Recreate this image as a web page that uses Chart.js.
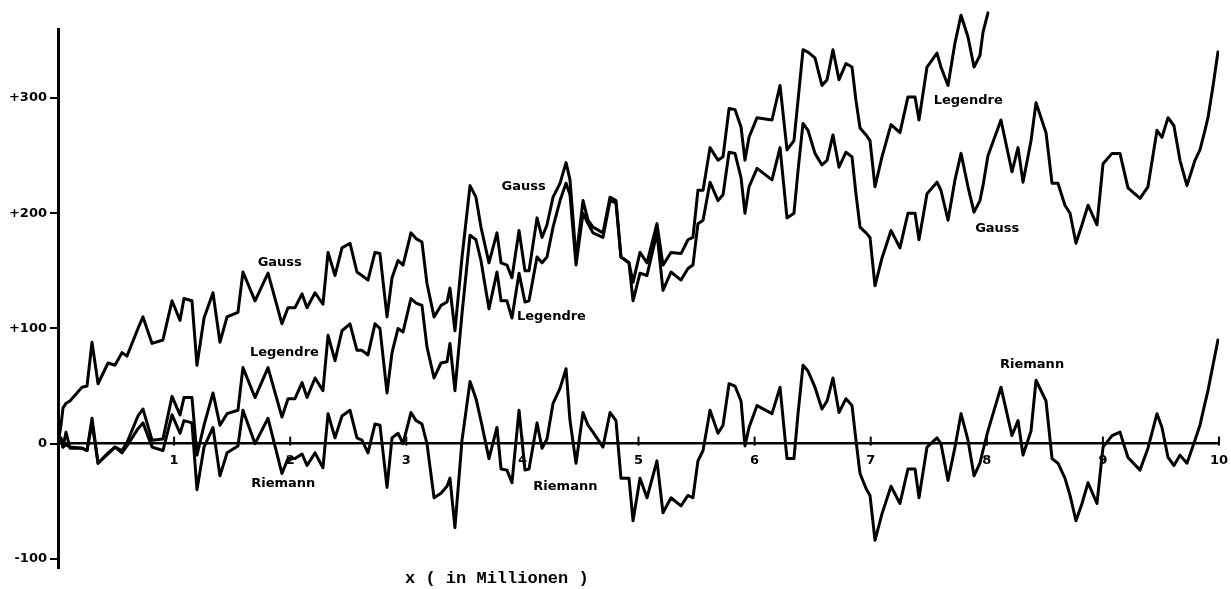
<!DOCTYPE html>
<html>
<head>
<meta charset="utf-8">
<script src="https://cdn.jsdelivr.net/npm/chart.js@4.4.1/dist/chart.umd.min.js"></script>
<style>
  body { margin: 0; background: #fff; }
</style>
</head>
<body>
<canvas id="myChart" width="1231" height="589"></canvas>
<script>
// x in millions at the corners of the curves
const xValues = [
  0, 0.026, 0.043, 0.069, 0.103, 0.207, 0.250, 0.293, 0.345, 0.431,
  0.491, 0.551, 0.594, 0.689, 0.732, 0.810, 0.904, 0.982, 1.051, 1.085,
  1.154, 1.197, 1.258, 1.335, 1.395, 1.456, 1.550, 1.593, 1.697, 1.809,
  1.929, 1.981, 2.041, 2.102, 2.145, 2.214, 2.282, 2.326, 2.386, 2.446,
  2.515, 2.575, 2.618, 2.670, 2.730, 2.773, 2.834, 2.877, 2.929, 2.972,
  3.040, 3.084, 3.135, 3.178, 3.239, 3.299, 3.351, 3.376, 3.419, 3.480,
  3.549, 3.600, 3.643, 3.712, 3.781, 3.816, 3.867, 3.910, 3.971, 4.022,
  4.057, 4.126, 4.169, 4.212, 4.264, 4.324, 4.376, 4.410, 4.462, 4.522,
  4.565, 4.608, 4.694, 4.755, 4.806, 4.849, 4.918, 4.953, 5.013, 5.073,
  5.159, 5.211, 5.280, 5.366, 5.426, 5.469, 5.512, 5.556, 5.616, 5.685,
  5.728, 5.780, 5.831, 5.883, 5.917, 5.952, 6.021, 6.150, 6.219, 6.279,
  6.339, 6.374, 6.417, 6.460, 6.520, 6.580, 6.624, 6.675, 6.727, 6.787,
  6.839, 6.873, 6.908, 6.960, 6.994, 7.037, 7.097, 7.175, 7.252, 7.321,
  7.382, 7.416, 7.485, 7.571, 7.605, 7.666, 7.726, 7.778, 7.838, 7.890,
  7.941, 7.967, 8.010, 8.122, 8.217, 8.269, 8.312, 8.381, 8.424, 8.510,
  8.562, 8.613, 8.673, 8.717, 8.768, 8.820, 8.872, 8.949, 9.001, 9.079,
  9.147, 9.216, 9.320, 9.388, 9.466, 9.509, 9.561, 9.612, 9.664, 9.724,
  9.793, 9.836, 9.879, 9.905, 9.948, 9.991
];

const gaussValues = [
  0, 16, 31, 35, 37, 49, 50, 88, 52, 70,
  68, 79, 76, 100, 110, 87, 90, 124, 107, 126,
  124, 68, 109, 131, 88, 110, 114, 149, 124, 148,
  104, 118, 118, 130, 118, 131, 121, 166, 146, 170,
  174, 149, 146, 142, 166, 165, 110, 144, 159, 155,
  183, 178, 175, 139, 110, 120, 123, 135, 98, 162,
  224, 214, 188, 157, 183, 157, 155, 144, 185, 150,
  150, 196, 179, 190, 214, 226, 244, 229, 161, 211,
  194, 188, 183, 214, 211, 162, 157, 124, 148, 146,
  183, 133, 149, 142, 152, 155, 191, 194, 227, 211,
  216, 253, 252, 231, 200, 223, 239, 229, 257, 196,
  200, 237, 278, 272, 252, 242, 246, 268, 240, 253,
  249, 217, 188, 183, 179, 137, 161, 185, 170, 200,
  200, 177, 217, 227, 220, 194, 229, 252, 223, 201,
  211, 224, 250, 281, 236, 257, 227, 263, 296, 270,
  226, 226, 207, 200, 174, 190, 207, 190, 243, 252,
  252, 222, 213, 223, 272, 266, 283, 276, 246, 224,
  246, 255, 272, 283, 310, 340
];

// Legendre leaves the top of the picture a little after x = 8
const legendreValues = [
  0, 3, -3, -1, -3, -4, -6, 18, -17, -8,
  -3, -6, 1, 24, 30, 3, 4, 41, 25, 40,
  40, -10, 16, 44, 16, 26, 29, 66, 40, 66,
  23, 39, 39, 53, 40, 57, 46, 94, 72, 98,
  104, 81, 81, 77, 104, 100, 44, 79, 100, 97,
  126, 122, 120, 84, 57, 70, 71, 87, 46, 113,
  181, 177, 159, 117, 149, 124, 124, 109, 148, 123,
  124, 162, 157, 162, 188, 211, 226, 216, 155, 200,
  191, 183, 179, 211, 209, 162, 157, 140, 166, 157,
  191, 155, 166, 165, 177, 179, 220, 220, 257, 246,
  249, 291, 290, 275, 246, 266, 283, 281, 311, 255,
  263, 298, 342, 340, 335, 311, 316, 342, 316, 330,
  327, 298, 274, 268, 263, 223, 249, 277, 270, 301,
  301, 281, 327, 339, 327, 311, 348, 372, 353, 327,
  337, 357, 374, null, null, null, null, null, null, null,
  null, null, null, null, null, null, null, null, null, null,
  null, null, null, null, null, null, null, null, null, null,
  null, null, null, null, null, null
];

const riemannValues = [
  0, 5, -3, 10, -4, -4, -6, 22, -17, -9,
  -3, -8, -2, 13, 18, -3, -6, 25, 9, 20,
  18, -40, -3, 14, -28, -8, -2, 29, 0, 22,
  -26, -13, -13, -9, -19, -8, -21, 26, 5, 24,
  29, 5, 3, -8, 17, 16, -38, 5, 9, 0,
  27, 20, 17, 0, -47, -43, -37, -30, -73, 3,
  54, 39, 20, -13, 14, -22, -23, -34, 29, -23,
  -22, 18, -4, 4, 35, 48, 65, 20, -17, 27,
  16, 10, -3, 27, 20, -30, -30, -67, -30, -47,
  -15, -60, -47, -54, -45, -47, -15, -6, 29, 9,
  16, 52, 50, 37, -2, 14, 33, 26, 49, -13,
  -13, 26, 68, 63, 49, 30, 37, 57, 27, 39,
  33, 3, -26, -39, -45, -84, -61, -37, -52, -22,
  -22, -47, -3, 5, 0, -32, -3, 26, 3, -28,
  -17, -6, 11, 49, 7, 20, -10, 11, 55, 37,
  -13, -17, -30, -45, -67, -52, -34, -52, -3, 7,
  10, -12, -23, -4, 26, 14, -12, -19, -10, -17,
  3, 16, 35, 46, 68, 90
];

const xTicks = [1, 2, 3, 4, 5, 6, 7, 8, 9, 10];
const yTicks = [-100, 0, 100, 200, 300];

// names written next to the curves, placed in data units
const curveNames = ['Gauss', 'Legendre', 'Riemann', 'Gauss', 'Legendre', 'Riemann', 'Legendre', 'Gauss', 'Riemann'];
const nameX = [1.91, 1.95, 1.94, 4.01, 4.25, 4.37, 7.84, 8.09, 8.39];
const nameY = [157, 79, -35, 223, 110, -37, 298, 187, 69];

const xTitle = 'x ( in Millionen )';

const toPoints = ys => xValues.map((x, i) => ({ x: x, y: ys[i] }));

const tickFont = { family: 'DejaVu Sans', size: 13, weight: 'bold' };

const lineStyle = {
  borderColor: '#000',
  backgroundColor: '#000',
  borderWidth: 3,
  pointRadius: 0,
  tension: 0,
  fill: false,
  borderJoinStyle: 'round',
  borderCapStyle: 'round'
};

const textPlugin = {
  id: 'curveText',
  afterDatasetsDraw(chart) {
    const ctx = chart.ctx;
    const xs = chart.scales.x;
    const ys = chart.scales.y;
    const y0 = ys.getPixelForValue(0);
    ctx.save();
    // small tick marks standing on the x axis
    ctx.strokeStyle = '#000';
    ctx.lineWidth = 2;
    xTicks.forEach(v => {
      const px = xs.getPixelForValue(v);
      ctx.beginPath();
      ctx.moveTo(px, y0 - 7);
      ctx.lineTo(px, y0 + 2);
      ctx.stroke();
    });
    ctx.fillStyle = '#000';
    ctx.textAlign = 'center';
    ctx.textBaseline = 'middle';
    ctx.font = 'bold 13px "DejaVu Sans"';
    curveNames.forEach((name, i) => {
      ctx.fillText(name, xs.getPixelForValue(nameX[i]), ys.getPixelForValue(nameY[i]));
    });
    ctx.font = 'bold 17px "Liberation Mono"';
    ctx.fillText(xTitle, xs.getPixelForValue(3.78), chart.chartArea.bottom + 11);
    ctx.restore();
  }
};

const ctx = document.getElementById('myChart').getContext('2d');
const chart = new Chart(ctx, {
  type: 'line',
  data: {
    datasets: [
      Object.assign({ label: 'Gauss', data: toPoints(gaussValues) }, lineStyle),
      Object.assign({ label: 'Legendre', data: toPoints(legendreValues), clip: false }, lineStyle),
      Object.assign({ label: 'Riemann', data: toPoints(riemannValues) }, lineStyle)
    ]
  },
  options: {
    responsive: false,
    animation: false,
    devicePixelRatio: 1,
    layout: { padding: { top: 29, right: 12, bottom: 21, left: 0 } },
    plugins: {
      legend: { display: false },
      tooltip: { enabled: false }
    },
    scales: {
      x: {
        type: 'linear',
        min: 0,
        max: 10,
        position: { y: 0 },
        afterBuildTicks: s => { s.ticks = xTicks.map(v => ({ value: v })); },
        afterFit: s => { s.paddingLeft = 0; s.paddingRight = 0; },
        grid: { drawOnChartArea: false, drawTicks: false },
        border: { color: '#000', width: 2.5 },
        ticks: { color: '#000', font: tickFont, padding: 9, maxRotation: 0, autoSkip: false }
      },
      y: {
        min: -108,
        max: 360,
        afterBuildTicks: s => { s.ticks = yTicks.map(v => ({ value: v })); },
        afterFit: s => { s.width = 58; },
        grid: { drawOnChartArea: false, color: '#000', lineWidth: 2, tickLength: 8 },
        border: { color: '#000', width: 3 },
        ticks: {
          color: '#000',
          font: tickFont,
          padding: 3,
          callback: v => (v > 0 ? '+' + v : String(v))
        }
      }
    }
  },
  plugins: [textPlugin]
});
</script>
</body>
</html>
